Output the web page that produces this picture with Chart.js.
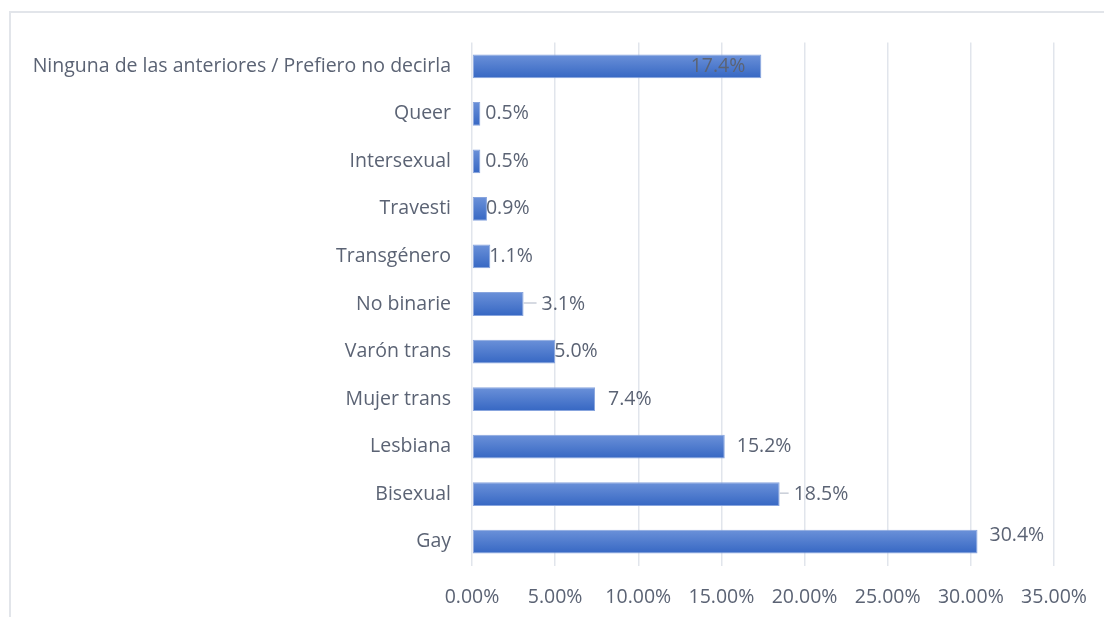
<!DOCTYPE html>
<html>
<head>
<meta charset="utf-8">
<script src="https://cdn.jsdelivr.net/npm/chart.js@4"></script>
<style>
  html, body { margin: 0; padding: 0; background: #fff; }
  #wrap { width: 1104px; height: 617px; position: relative; }
</style>
</head>
<body>
<div id="wrap"><canvas id="chart" width="1104" height="617"></canvas></div>
<script>
const categories = [
  "Ninguna de las anteriores / Prefiero no decirla",
  "Queer",
  "Intersexual",
  "Travesti",
  "Transgénero",
  "No binarie",
  "Varón trans",
  "Mujer trans",
  "Lesbiana",
  "Bisexual",
  "Gay"
];
const values = [17.4, 0.5, 0.5, 0.9, 1.1, 3.1, 5.0, 7.4, 15.2, 18.5, 30.4];
const xTicks = [0, 5, 10, 15, 20, 25, 30, 35];

// where Excel put each data label, relative to the bar end
const labelDx = [-16, 5, 5, -1, -1, 18, -1, 13, 12, 14, 12];
const labelDy = [0, 0, 0, 0, 0, 0, 0, 0, 0, 0, -6];
const leaderLines = [false, false, false, false, false, true, false, false, false, true, false];

const textColor = "#5b6374";
const fontFamily = "'Open Sans', 'Noto Sans', sans-serif";
const fontSize = 19.5;

const frame = {
  id: "frame",
  beforeDraw(chart) {
    const c = chart.ctx;
    c.save();
    c.strokeStyle = "#e2e5ea";
    c.lineWidth = 2;
    c.beginPath();
    c.moveTo(10, 640);
    c.lineTo(10, 12);
    c.lineTo(1120, 12);
    c.stroke();
    c.restore();
  }
};

// vertical gradient on each bar, like the Excel fill
function barFill(context) {
  const chart = context.chart;
  const y = chart.scales && chart.scales.y;
  if (!y || !chart.chartArea || context.dataIndex === undefined) return "#4a78cc";
  const cy = y.getPixelForValue(context.dataIndex);
  const half = Math.abs(y.getPixelForValue(1) - y.getPixelForValue(0)) / 4;
  const g = chart.ctx.createLinearGradient(0, cy - half, 0, cy + half);
  g.addColorStop(0, "#6b91d9");
  g.addColorStop(1, "#3667c3");
  return g;
}

const barLabels = {
  id: "barLabels",
  afterDatasetsDraw(chart) {
    const c = chart.ctx;
    c.save();
    c.font = fontSize + "px " + fontFamily;
    c.fillStyle = textColor;
    c.textBaseline = "middle";
    chart.getDatasetMeta(0).data.forEach((bar, i) => {
      const txt = values[i].toFixed(1) + "%";
      const x = bar.x + labelDx[i];
      const y = bar.y + labelDy[i];
      c.textAlign = labelDx[i] < -5 ? "right" : "left";
      if (leaderLines[i]) {
        c.strokeStyle = "#c9ced8";
        c.lineWidth = 1.5;
        c.beginPath();
        c.moveTo(bar.x, y - 1);
        c.lineTo(x - 5, y - 1);
        c.stroke();
      }
      c.fillText(txt, x, y);
    });
    c.restore();
  }
};

new Chart(document.getElementById("chart"), {
  type: "bar",
  data: {
    labels: categories,
    datasets: [{
      data: values,
      backgroundColor: barFill,
      borderColor: "#88a5de",
      borderWidth: 1,
      borderSkipped: false,
      barPercentage: 0.5,
      categoryPercentage: 1
    }]
  },
  options: {
    indexAxis: "y",
    responsive: false,
    animation: false,
    layout: { padding: { top: 42.5, right: 50, bottom: 0, left: 0 } },
    plugins: {
      legend: { display: false },
      tooltip: { enabled: false }
    },
    scales: {
      x: {
        min: 0,
        max: 35,
        afterBuildTicks(axis) {
          axis.ticks = xTicks.map(v => ({ value: v }));
        },
        afterFit(axis) {
          axis.height = 51.5;
          axis.paddingLeft = 0;
          axis.paddingRight = 0;
        },
        border: { display: false },
        grid: { color: "#e1e5ec", lineWidth: 1.5, drawTicks: false },
        ticks: {
          padding: 20,
          color: textColor,
          font: { family: fontFamily, size: fontSize },
          callback: v => v.toFixed(2) + "%"
        }
      },
      y: {
        afterFit(axis) { axis.width = 472; },
        border: { display: false },
        grid: { display: false, drawTicks: false },
        ticks: {
          padding: 21,
          color: textColor,
          font: { family: fontFamily, size: fontSize }
        }
      }
    }
  },
  plugins: [frame, barLabels]
});
</script>
</body>
</html>
